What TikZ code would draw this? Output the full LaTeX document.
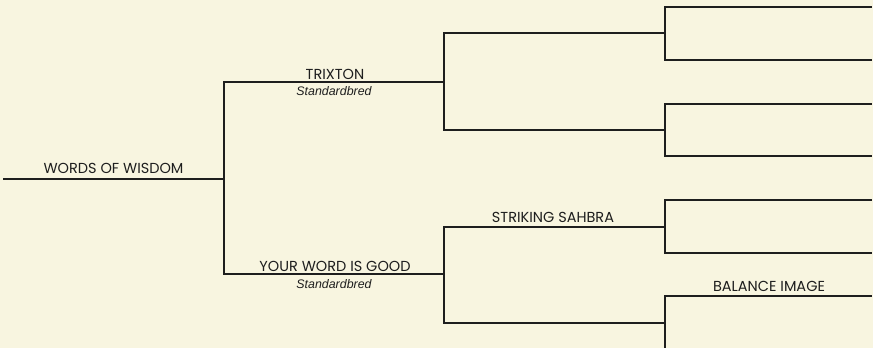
\documentclass[tikz,border=0pt]{standalone}
\usepackage{fontspec}
\newfontfamily\namefont{Poppins}
\newfontfamily\breedfont{Liberation Sans}
\definecolor{bg}{HTML}{F8F5E0}
\definecolor{ln}{HTML}{1E1E1E}
\begin{document}
\begin{tikzpicture}[x=1pt,y=-1pt,
  bline/.style={draw=ln,line width=1.5pt,line cap=rect},
  hname/.style={anchor=base,inner sep=0pt,font=\namefont\fontsize{14.5}{16}\selectfont,text=ln},
  breed/.style={anchor=base,inner sep=0pt,font=\breedfont\itshape\fontsize{12.4}{14}\selectfont,text=ln}]
\fill[bg] (0,0) rectangle (873,348);
\useasboundingbox (0,0) rectangle (873,348);
% generation 1
\coordinate (g1a) at (4,179);
\coordinate (g1b) at (224,179);
% generation 2
\coordinate (s0) at (224,82);  \coordinate (s1) at (444,82);
\coordinate (d0) at (224,274); \coordinate (d1) at (444,274);
% generation 3
\coordinate (ss0) at (444,33);  \coordinate (ss1) at (665,33);
\coordinate (sd0) at (444,130); \coordinate (sd1) at (665,130);
\coordinate (ds0) at (444,227); \coordinate (ds1) at (665,227);
\coordinate (dd0) at (444,323); \coordinate (dd1) at (665,323);
% generation 4
\coordinate (a1) at (665,7);   \coordinate (a2) at (871,7);
\coordinate (b1) at (665,60);  \coordinate (b2) at (871,60);
\coordinate (c1) at (665,104); \coordinate (c2) at (871,104);
\coordinate (e1) at (665,156); \coordinate (e2) at (871,156);
\coordinate (f1) at (665,200); \coordinate (f2) at (871,200);
\coordinate (h1) at (665,253); \coordinate (h2) at (871,253);
\coordinate (i1) at (665,296); \coordinate (i2) at (871,296);
\coordinate (j1) at (665,352); \coordinate (j2) at (871,352);

\draw[bline] (g1a) -- (g1b);
\draw[bline] (s0) -- (d0);
\draw[bline] (s0) -- (s1);
\draw[bline] (d0) -- (d1);
\draw[bline] (ss0) -- (sd0);
\draw[bline] (ds0) -- (dd0);
\draw[bline] (ss0) -- (ss1);
\draw[bline] (sd0) -- (sd1);
\draw[bline] (ds0) -- (ds1);
\draw[bline] (dd0) -- (dd1);
\draw[bline] (a1) -- (b1);
\draw[bline] (c1) -- (e1);
\draw[bline] (f1) -- (h1);
\draw[bline] (i1) -- (j1);
\draw[bline] (a1) -- (a2);
\draw[bline] (b1) -- (b2);
\draw[bline] (c1) -- (c2);
\draw[bline] (e1) -- (e2);
\draw[bline] (f1) -- (f2);
\draw[bline] (h1) -- (h2);
\draw[bline] (i1) -- (i2);

\node[hname] (n1) at (113.5,173) {WORDS OF WISDOM};
\node[hname] (n2) at (335,79) {TRIXTON};
\node[breed] (b2n) at (334,95.5) {Standardbred};
\node[hname] (n3) at (335,271.5) {YOUR WORD IS GOOD};
\node[breed] (b3n) at (334,288) {Standardbred};
\node[hname] (n4) at (553,222.5) {STRIKING SAHBRA};
\node[hname] (n5) at (769,291) {BALANCE IMAGE};
\end{tikzpicture}
\end{document}
